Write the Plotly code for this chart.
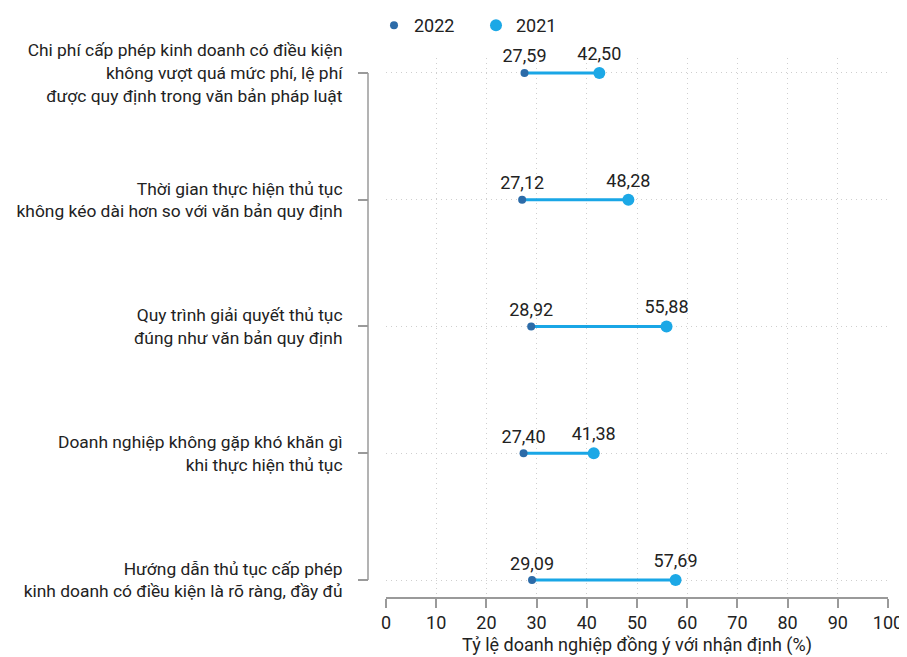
import plotly.graph_objects as go

categories = [
    "Chi phí cấp phép kinh doanh có điều kiện<br>không vượt quá mức phí, lệ phí<br>được quy định trong văn bản pháp luật",
    "Thời gian thực hiện thủ tục<br>không kéo dài hơn so với văn bản quy định",
    "Quy trình giải quyết thủ tục<br>đúng như văn bản quy định",
    "Doanh nghiệp không gặp khó khăn gì<br>khi thực hiện thủ tục",
    "Hướng dẫn thủ tục cấp phép<br>kinh doanh có điều kiện là rõ ràng, đầy đủ",
]
values_2022 = [27.59, 27.12, 28.92, 27.40, 29.09]
values_2021 = [42.50, 48.28, 55.88, 41.38, 57.69]
x_ticks = [0, 10, 20, 30, 40, 50, 60, 70, 80, 90, 100]

FONT = "Roboto"
C22 = "#2c6ba8"
C21 = "#1ca8e6"
LINE = "#19a6e6"
GREY = "#9a9a9a"
GRID = "#cfcfcf"

def fmt(v):
    return f"{v:.2f}".replace(".", ",")

fig = go.Figure()

for cat, a, b in zip(categories, values_2022, values_2021):
    fig.add_trace(go.Scatter(
        x=[a, b], y=[cat, cat], mode="lines",
        line=dict(color=LINE, width=3),
        showlegend=False, hoverinfo="skip",
    ))

fig.add_trace(go.Scatter(
    x=values_2022, y=categories, mode="markers+text", name="2022",
    marker=dict(size=8, color=C22),
    text=[fmt(v) for v in values_2022], textposition="top center",
    textfont=dict(size=18, color="#222", family=FONT),
    cliponaxis=False,
))
fig.add_trace(go.Scatter(
    x=values_2021, y=categories, mode="markers+text", name="2021",
    marker=dict(size=12, color=C21),
    text=[fmt(v) for v in values_2021], textposition="top center",
    textfont=dict(size=18, color="#222", family=FONT),
    cliponaxis=False,
))

fig.add_shape(type="line", xref="paper", yref="y",
              x0=0, x1=0, y0=categories[0], y1=categories[-1],
              line=dict(color=GREY, width=1.5))

fig.update_layout(
    width=899, height=649,
    margin=dict(l=360, r=19, t=50, b=60, autoexpand=False),
    paper_bgcolor="white", plot_bgcolor="white",
    font=dict(family=FONT, size=18, color="#222"),
    showlegend=True,
    legend=dict(orientation="h", x=6 / 520, xanchor="left", y=1.06, yanchor="middle",
                font=dict(size=18, family=FONT, color="#222"),
                itemsizing="trace", traceorder="normal", entrywidth=57),
    xaxis=dict(
        domain=[18 / 520, 1], range=[0, 100],
        tickvals=x_ticks, ticktext=[str(t) for t in x_ticks],
        ticks="outside", ticklen=9, tickcolor=GREY, tickwidth=1.5,
        showline=True, linecolor=GREY, linewidth=1.5,
        showgrid=True, gridcolor=GRID, griddash="1px,4px", gridwidth=1,
        zeroline=False, automargin=False,
        tickfont=dict(size=18, family=FONT, color="#222"),
        title=dict(text="Tỷ lệ doanh nghiệp đồng ý với nhận định (%)",
                   font=dict(size=18, family=FONT, color="#222"), standoff=6),
    ),
    yaxis=dict(
        type="category", categoryorder="array", categoryarray=categories,
        range=[4.134, -0.118],
        anchor="free", position=0,
        ticks="outside", ticklen=10, tickcolor=GREY, tickwidth=1.5,
        showline=False,
        showgrid=True, gridcolor=GRID, griddash="1px,4px", gridwidth=1,
        zeroline=False, automargin=False,
        ticklabelstandoff=12,
        tickfont=dict(size=17.4, family=FONT, color="#222"),
    ),
)

fig.write_html("out.html")
